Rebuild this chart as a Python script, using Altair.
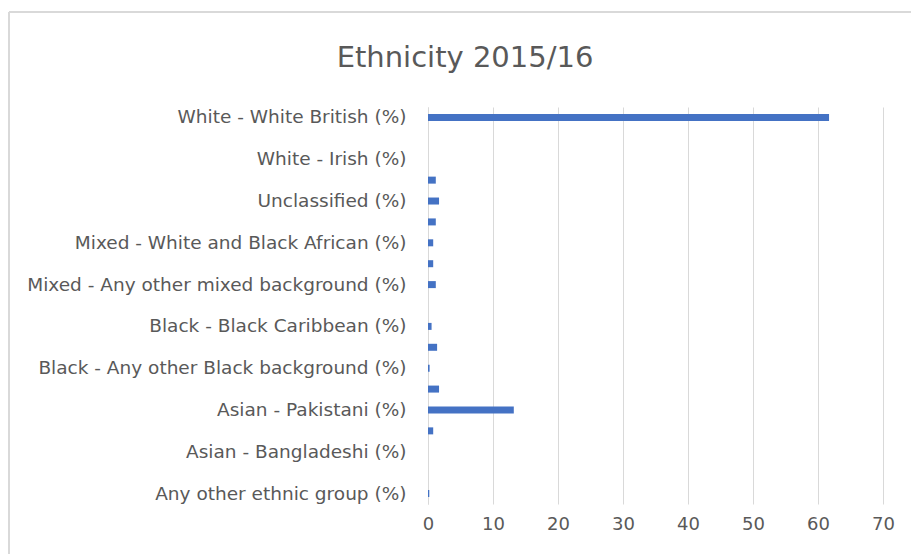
import altair as alt
import pandas as pd

# Categories top to bottom
categories = [
    "White - White British (%)",
    "White - Gypsy/Roma (%)",
    "White - Irish (%)",
    "White - Any other White background (%)",
    "Unclassified (%)",
    "Mixed - White and Black Caribbean (%)",
    "Mixed - White and Black African (%)",
    "Mixed - White and Asian (%)",
    "Mixed - Any other mixed background (%)",
    "Chinese (%)",
    "Black - Black Caribbean (%)",
    "Black - Black African (%)",
    "Black - Any other Black background (%)",
    "Asian - Other (%)",
    "Asian - Pakistani (%)",
    "Asian - Indian (%)",
    "Asian - Bangladeshi (%)",
    "Asian - Any other Asian background (%)",
    "Any other ethnic group (%)",
]
values = [61.7, 0, 0, 1.2, 1.7, 1.2, 0.8, 0.8, 1.2, 0, 0.55, 1.4, 0.25, 1.7, 13.2, 0.8, 0, 0, 0.2]

shown_labels = [
    "White - White British (%)",
    "White - Irish (%)",
    "Unclassified (%)",
    "Mixed - White and Black African (%)",
    "Mixed - Any other mixed background (%)",
    "Black - Black Caribbean (%)",
    "Black - Any other Black background (%)",
    "Asian - Pakistani (%)",
    "Asian - Bangladeshi (%)",
    "Any other ethnic group (%)",
]
x_ticks = [0, 10, 20, 30, 40, 50, 60, 70]
title_text = "Ethnicity 2015/16"

df = pd.DataFrame({"category": categories, "value": values})

FONT = "DejaVu Sans"
GREY = "#595959"
W, H = 455, 397
PAD_L, PAD_T = 428, 107
TOTAL_W, TOTAL_H = 911, 554

label_js = "[" + ",".join("'" + s.replace("'", "\\'") + "'" for s in shown_labels) + "]"

bars = alt.Chart(df).mark_bar(color="#4472C4", size=7).encode(
    x=alt.X("value:Q",
            scale=alt.Scale(domain=[0, 70], nice=False),
            axis=alt.Axis(values=x_ticks, title=None, grid=True, gridColor="#d9d9d9",
                          domain=False, ticks=False, labelPadding=11, labelFlush=False,
                          labelFont=FONT, labelFontSize=18, labelColor=GREY)),
    y=alt.Y("category:N", sort=categories,
            scale=alt.Scale(paddingInner=0, paddingOuter=0),
            axis=alt.Axis(title=None, ticks=False, domain=True, domainColor="#d9d9d9",
                          labelPadding=22, labelFont=FONT, labelFontSize=18.5,
                          labelColor=GREY, labelLimit=500,
                          labelExpr=f"indexof({label_js}, datum.value) >= 0 ? datum.value : ''")),
)

border_top = alt.Chart(df).mark_rule(color="#d9d9d9", strokeWidth=1.5).encode(
    x=alt.value(9 - PAD_L), x2=alt.value(TOTAL_W - PAD_L),
    y=alt.value(12 - PAD_T))
border_left = alt.Chart(df).mark_rule(color="#d9d9d9", strokeWidth=1.5).encode(
    x=alt.value(9 - PAD_L), y=alt.value(12 - PAD_T), y2=alt.value(TOTAL_H - PAD_T))

title = alt.Chart(pd.DataFrame({"t": [title_text]})).mark_text(
    font=FONT, fontSize=29, color=GREY, align="center", baseline="alphabetic"
).encode(x=alt.value(465 - PAD_L), y=alt.value(67 - PAD_T), text="t:N")

chart = alt.layer(border_top, border_left, title, bars).properties(
    width=W, height=H,
    background="white",
    autosize=alt.AutoSizeParams(type="none"),
    padding={"left": PAD_L, "top": PAD_T, "right": TOTAL_W - PAD_L - W, "bottom": TOTAL_H - PAD_T - H},
).configure_view(stroke=None, strokeWidth=0)

chart.save("out.html", embed_options={"renderer": "svg", "actions": False})
